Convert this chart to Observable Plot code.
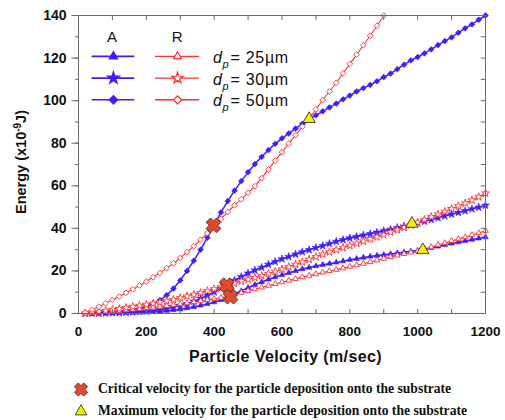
<!DOCTYPE html>
<html><head><meta charset="utf-8">
<script src="https://cdn.jsdelivr.net/npm/d3@7"></script>
<script src="https://cdn.jsdelivr.net/npm/@observablehq/plot@0.6"></script>
<style>
body{margin:0;background:#fff;}
#wrap{position:relative;width:505px;height:420px;overflow:hidden;}
.foot{position:absolute;left:0;height:22px;line-height:22px;font-family:"Liberation Serif","Times New Roman",serif;font-weight:bold;font-size:13.6px;color:#111;white-space:nowrap;}
.foot svg{position:absolute;top:3px;}
.foot span{position:absolute;left:98px;top:0;}
</style></head><body>
<div id="wrap"><div id="chart"></div></div>
<script>
// Particle velocity (m/sec)
const velocity = [20,40,60,80,100,120,140,160,180,200,220,240,260,280,300,320,340,360,380,400,420,440,460,480,500,520,540,560,580,600,620,640,660,680,700,720,740,760,780,800,820,840,860,880,900,920,940,960,980,1000,1020,1040,1060,1080,1100,1120,1140,1160,1180,1200];
// Energy (x10^-9 J)
const A25 = [0.0,0.0,0.1,0.1,0.2,0.2,0.3,0.4,0.5,0.6,0.8,1.0,1.3,1.6,2.0,2.5,3.1,3.8,4.5,5.3,6.4,7.8,9.2,10.6,12.1,13.5,14.8,16.0,17.1,18.1,19.1,20.0,20.9,21.6,22.3,22.9,23.4,24.0,24.6,25.2,25.7,26.3,26.8,27.2,27.6,28.0,28.4,28.8,29.2,29.6,30.2,30.8,31.5,32.2,32.9,33.5,34.1,34.7,35.3,35.9];
const A30 = [0.0,0.1,0.1,0.2,0.3,0.4,0.5,0.7,0.9,1.1,1.4,1.8,2.3,2.9,3.7,4.6,5.7,7.0,8.5,10.1,11.9,13.7,15.5,17.3,18.9,20.3,21.6,23.0,24.3,25.6,26.7,27.8,28.9,29.9,30.9,31.8,32.8,33.8,34.6,35.4,36.1,36.8,37.4,38.1,38.8,39.5,40.3,41.0,41.7,42.5,43.3,44.1,44.9,45.8,46.6,47.4,48.2,49.1,49.9,50.8];
const A50 = [0.1,0.2,0.3,0.5,0.7,1.0,1.4,1.9,2.5,3.3,4.6,6.3,8.6,11.7,15.6,20.0,24.8,30.0,35.6,41.5,47.5,52.8,57.7,62.2,66.4,70.2,73.6,76.8,79.7,82.3,84.6,86.9,89.1,91.3,93.1,95.0,96.8,98.6,100.6,102.4,104.3,105.9,107.4,109.1,111.0,112.7,114.8,116.9,118.9,120.5,122.2,124.1,126.1,128.0,129.7,131.9,134.0,135.8,138.0,140.0];
const R25 = [0.1,0.3,0.5,0.8,1.1,1.3,1.6,1.9,2.2,2.5,2.8,3.2,3.6,4.0,4.4,4.9,5.4,5.9,6.4,6.9,7.4,8.1,8.9,9.8,10.7,11.5,12.3,13.1,13.9,14.7,15.5,16.3,17.1,17.8,18.5,19.3,20.0,20.6,21.3,22.0,22.7,23.4,24.2,25.0,25.8,26.6,27.3,28.0,28.7,29.3,30.3,31.2,32.2,33.1,34.1,35.0,35.9,36.9,37.8,38.9];
const R30 = [0.1,0.5,0.9,1.3,1.8,2.2,2.7,3.2,3.7,4.2,4.7,5.3,5.9,6.5,7.3,8.1,8.9,9.7,10.6,11.5,12.4,13.3,14.2,15.2,16.0,16.8,17.7,18.7,19.7,20.8,21.9,23.0,24.2,25.4,26.6,27.8,28.9,29.9,30.9,31.9,32.9,33.9,34.9,35.9,37.0,38.2,39.3,40.4,41.6,42.8,44.1,45.4,46.6,47.9,49.2,50.5,51.8,53.2,54.8,56.5];
const R50 = [0.4,1.8,3.2,4.8,6.4,8.0,9.7,11.4,13.2,15.0,17.0,19.1,21.3,23.6,26.1,28.8,31.6,34.6,37.8,41.2,44.5,47.7,50.8,53.7,56.7,59.8,63.6,67.7,71.8,75.8,79.8,83.8,87.8,91.6,95.9,100.3,104.3,108.4,112.8,117.3,121.6,126.0,130.5,135.2,140.0];
// Critical / maximum deposition velocities
const criticalV = [398, 437, 448];
const criticalE = [41.4, 13.3, 7.9];
const maximumV = [680, 983, 1015];
const maximumE = [91.4, 42.2, 29.8];
// Ticks
const xTicks = [0,200,400,600,800,1000,1200];
const xMinor = [0,100,200,300,400,500,600,700,800,900,1000,1100,1200];
const yTicks = [0,20,40,60,80,100,120,140];
const yMinor = [0,10,20,30,40,50,60,70,80,90,100,110,120,130,140];
// Legend
const sizes = ["25µm","30µm","50µm"];
const legendSymbols = ["triangle","star","diamond"];

const BLUE = "#3d1eff", RED = "#ff3030";
const W = 505, H = 365, mL = 78, mR = 20, mT = 15, mB = 52;
const kx = 1200 / (W - mL - mR), ky = 140 / (H - mT - mB);

const symbolRhombus = {draw(ctx, size) {
  const r = Math.sqrt(size / 2);
  ctx.moveTo(0, -r); ctx.lineTo(r, 0); ctx.lineTo(0, r); ctx.lineTo(-r, 0); ctx.closePath();
}};
const symbolX = {draw(ctx, size) {
  const r = Math.sqrt(size / 5) / 2, a = 1.25 * r, L = 3 * r;
  const p = [[-L,-a],[-a,-a],[-a,-L],[a,-L],[a,-a],[L,-a],[L,a],[a,a],[a,L],[-a,L],[-a,a],[-L,a]];
  const c = Math.SQRT1_2;
  p.forEach(([x, y], i) => { const X = (x - y) * c, Y = (x + y) * c; i ? ctx.lineTo(X, Y) : ctx.moveTo(X, Y); });
  ctx.closePath();
}};
const symType = {triangle: d3.symbolTriangle, star: d3.symbolStar, diamond: symbolRhombus};
const symR = {triangle: 2.1, star: 2.5, diamond: 2.3};

const pts = (vals) => vals.map((e, i) => ({v: velocity[i], e}));
const series = [
  {data: pts(A25), sym: "triangle", src: "A"},
  {data: pts(A30), sym: "star", src: "A"},
  {data: pts(A50), sym: "diamond", src: "A"},
  {data: pts(R25), sym: "triangle", src: "R"},
  {data: pts(R30), sym: "star", src: "R"},
  {data: pts(R50), sym: "diamond", src: "R"}
];
const crit = criticalV.map((v, i) => ({v, e: criticalE[i]}));
const maxi = maximumV.map((v, i) => ({v, e: maximumE[i]}));

// legend layout in data units
const rowsE = [120.8, 110.6, 100.4];
const legend = sizes.map((s, i) => ({s, sym: legendSymbols[i], e: rowsE[i]}));

const marks = [];
for (const s of series) {
  const col = s.src === "A" ? BLUE : RED;
  marks.push(Plot.line(s.data, {x: "v", y: "e", stroke: col, strokeWidth: s.src === "A" ? 1.5 : 1.1}));
}
for (const s of series) {
  const col = s.src === "A" ? BLUE : RED;
  marks.push(Plot.dot(s.data, {x: "v", y: "e", symbol: symType[s.sym], r: symR[s.sym],
    fill: s.src === "A" ? col : "white", stroke: col, strokeWidth: s.src === "A" ? 0.6 : 0.9}));
}
marks.push(Plot.dot(crit, {x: "v", y: "e", symbol: symbolX, r: 6.2, fill: "#e8482a", stroke: "#333", strokeWidth: 0.9}));
marks.push(Plot.dot(maxi, {x: "v", y: "e", symbol: "triangle", r: 4.6, fill: "#f2f200", stroke: "#333", strokeWidth: 0.9}));

// in-plot legend (keys)
marks.push(Plot.text(["A"], {x: 99, y: 129.6, text: d => d, fontSize: 15, lineAnchor: "middle"}));
marks.push(Plot.text(["R"], {x: 291, y: 129.6, text: d => d, fontSize: 15, lineAnchor: "middle"}));
marks.push(Plot.ruleY(legend, {y: "e", x1: 40, x2: 166, stroke: BLUE, strokeWidth: 1.6}));
marks.push(Plot.ruleY(legend, {y: "e", x1: 227, x2: 357, stroke: RED, strokeWidth: 1.4}));
for (const L of legend) {
  marks.push(Plot.dot([L], {x: 103, y: "e", symbol: symType[L.sym], r: symR[L.sym] * 1.4, fill: BLUE, stroke: BLUE}));
  marks.push(Plot.dot([L], {x: 292, y: "e", symbol: symType[L.sym], r: symR[L.sym] * 1.4, fill: "white", stroke: RED, strokeWidth: 1.2}));
}

// frame and ticks
marks.push(Plot.frame({stroke: "#6a6a6a"}));
marks.push(Plot.ruleX(xMinor, {x: d => d, y1: 140, y2: 140 - 5 * ky, stroke: "#6a6a6a"}));
marks.push(Plot.ruleX(xMinor, {x: d => d, y1: 0, y2: 4 * ky, stroke: "#6a6a6a"}));
marks.push(Plot.ruleY(yMinor, {y: d => d, x1: 1200, x2: 1200 - 4.3 * kx, stroke: "#6a6a6a"}));
marks.push(Plot.ruleY(yMinor, {y: d => d, x1: 0, x2: -3 * kx, stroke: "#6a6a6a"}));
marks.push(Plot.ruleY(yTicks, {y: d => d, x1: 0, x2: -6.5 * kx, stroke: "#6a6a6a"}));
marks.push(Plot.axisX(xTicks, {tickSize: 0, tickPadding: 13, fontSize: 13.5, fontWeight: "bold", tickFormat: d => String(d), label: null}));
marks.push(Plot.axisY(yTicks, {tickSize: 0, tickPadding: 12, fontSize: 14, fontWeight: "bold", tickFormat: d => String(d), label: null}));

const svg = Plot.plot({
  width: W, height: H,
  marginLeft: mL, marginRight: mR, marginTop: mT, marginBottom: mB,
  x: {domain: [0, 1200]}, y: {domain: [0, 140]},
  style: {fontFamily: "'Liberation Sans', Arial, sans-serif", background: "white", color: "#111", overflow: "visible"},
  marks
});

const sx = svg.scale("x"), sy = svg.scale("y");
const fx = d3.scaleLinear(sx.domain, sx.range), fy = d3.scaleLinear(sy.domain, sy.range);
const s = d3.select(svg);

// d_p = size labels
for (const L of legend) {
  const t = s.append("text").attr("x", fx(398)).attr("y", fy(L.e) + 7).attr("text-anchor", "start")
    .attr("font-size", 16).attr("fill", "#111");
  t.append("tspan").attr("font-style", "italic").text("d");
  t.append("tspan").attr("font-style", "italic").attr("font-size", 11).attr("dx", 0.5).attr("dy", 5).text("p");
  t.append("tspan").attr("dx", 2).attr("dy", -5).attr("letter-spacing", 0.7).text("= " + L.s);
}

s.append("text").attr("x", 285.5).attr("y", 362).attr("text-anchor", "middle")
  .attr("font-size", 16).attr("letter-spacing", 0.4).attr("font-weight", "bold").attr("fill", "#111").text("Particle Velocity (m/sec)");
const yl = s.append("text").attr("transform", "translate(25.5,162) rotate(-90)").attr("text-anchor", "middle")
  .attr("font-size", 14.5).attr("font-weight", "bold").attr("fill", "#111");
yl.append("tspan").text("Energy (x10");
yl.append("tspan").attr("dy", -5).attr("font-size", 10).text("-9");
yl.append("tspan").attr("dy", 5).text("J)");

document.getElementById("chart").appendChild(svg);

// caption legend below
const wrap = document.getElementById("wrap");
const footItems = [
  {text: "Critical velocity for the particle deposition onto the substrate", sym: symbolX, size: 95, fill: "#e8482a"},
  {text: "Maximum velocity for the particle deposition onto the substrate", sym: d3.symbolTriangle, size: 60, fill: "#f2f200"}
];
footItems.forEach((f, i) => {
  const row = document.createElement("div");
  row.className = "foot";
  row.style.top = (378 + i * 22) + "px";
  row.style.width = "505px";
  const path = d3.symbol(f.sym, f.size)();
  row.innerHTML = `<svg width="16" height="16" style="left:73px"><path transform="translate(8,8.5)" d="${path}" fill="${f.fill}" stroke="#333" stroke-width="0.9"/></svg><span>${f.text}</span>`;
  wrap.appendChild(row);
});
</script>
</body></html>
